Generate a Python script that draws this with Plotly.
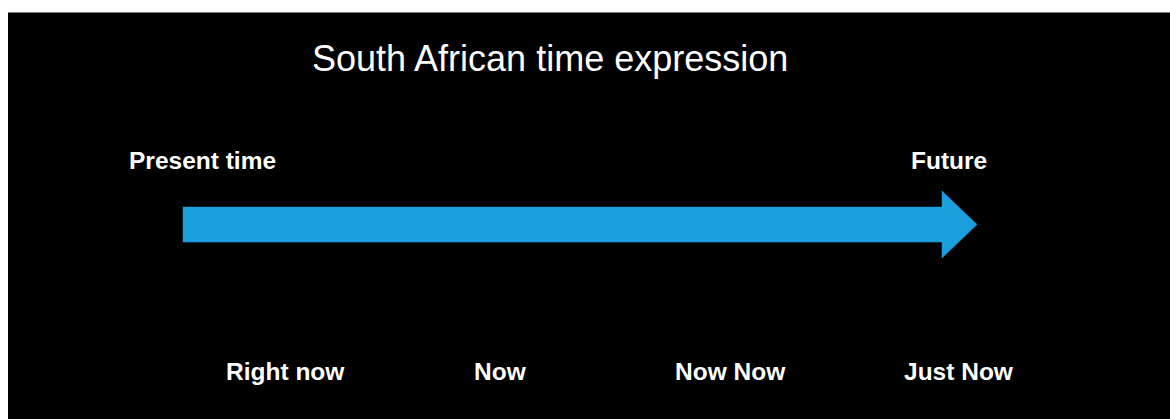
import plotly.graph_objects as go

# ---- data ----
title_text = "South African time expression"
endpoint_labels = ["Present time", "Future"]
endpoint_x = [127, 909]            # left edge of each end label on the timeline
time_labels = ["Right now", "Now", "Now Now", "Just Now"]
time_x = [285, 500, 730, 959]      # centre of each expression on the timeline
arrow_from = 183
arrow_to = 977

# ---- styling / layout constants ----
W, H = 1170, 419
FONT = "Arial, Liberation Sans, Helvetica, sans-serif"
BLUE = "#1a9edc"
shaft_half = 17.5
head_half = 33.5
head_len = 35
arrow_y = 224.5

fig = go.Figure()

# timeline arrow as a filled polygon
hb = arrow_to - head_len
ax = [arrow_from, hb, hb, arrow_to, hb, hb, arrow_from, arrow_from]
ay = [arrow_y - shaft_half, arrow_y - shaft_half, arrow_y - head_half, arrow_y,
      arrow_y + head_half, arrow_y + shaft_half, arrow_y + shaft_half, arrow_y - shaft_half]
fig.add_trace(go.Scatter(x=ax, y=ay, mode="lines", fill="toself",
                         fillcolor=BLUE, line=dict(color=BLUE, width=0.5),
                         hoverinfo="skip", showlegend=False))

# black slide background
fig.add_shape(type="rect", xref="x", yref="y", x0=8, x1=W, y0=12.5, y1=H,
              fillcolor="black", line=dict(width=0), layer="below")

fig.add_annotation(x=550, y=58, text=title_text, showarrow=False,
                   xanchor="center", yanchor="middle",
                   font=dict(family=FONT, size=36, color="white"))

for lab, x in zip(endpoint_labels, endpoint_x):
    fig.add_annotation(x=x, y=160.5, text="<b>%s</b>" % lab, showarrow=False,
                       xanchor="left", yanchor="middle",
                       font=dict(family=FONT, size=24.5, color="white"))

for lab, x in zip(time_labels, time_x):
    fig.add_annotation(x=x, y=371.5, text="<b>%s</b>" % lab, showarrow=False,
                       xanchor="center", yanchor="middle",
                       font=dict(family=FONT, size=24.5, color="white"))

fig.update_layout(
    width=W, height=H,
    margin=dict(l=0, r=0, t=0, b=0, pad=0),
    paper_bgcolor="white", plot_bgcolor="white",
    xaxis=dict(range=[0, W], visible=False, fixedrange=True),
    yaxis=dict(range=[H, 0], visible=False, fixedrange=True),
    showlegend=False,
)

fig.write_html("out.html", config={"displayModeBar": False},
               post_script="document.body.style.margin='0';document.body.style.overflow='hidden';")
